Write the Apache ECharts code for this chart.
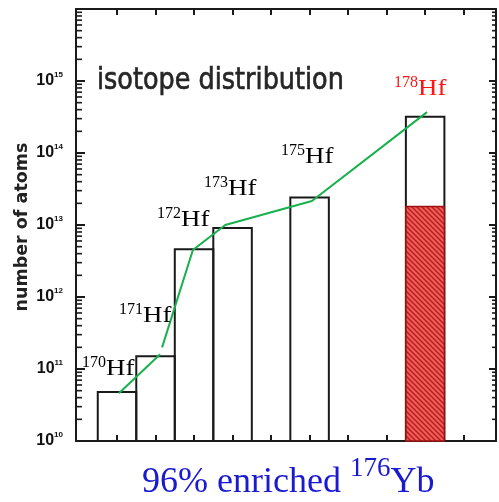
<!DOCTYPE html>
<html><head><meta charset="utf-8">
<script src="https://cdn.jsdelivr.net/npm/echarts@6/dist/echarts.min.js"></script>
<style>html,body{margin:0;padding:0;background:#fff}#c{width:499px;height:502px}</style>
</head><body><div id="c"></div>
<script>
// ---------- data ----------
const masses = [170, 171, 172, 173, 175, 178];
const atoms = [4.8e10, 1.5e11, 4.6e12, 9.1e12, 2.4e13, 3.2e14];
const enrichedMass = [178];
const enrichedAtoms = [1.8e13];
const lineMassA = [170.05, 171.12];
const lineAtomsA = [4.6e10, 1.6e11];
const lineMassB = [171.17, 171.97, 172.81, 175.06, 178.05];
const lineAtomsB = [2.0e11, 4.5e12, 1.0e13, 2.15e13, 3.7e14];
const massTicks = [170, 171, 172, 173, 174, 175, 176, 177, 178, 179];
const minorMultipliers = [2, 3, 4, 5, 6, 7, 8, 9];
const decadeExps = [10, 11, 12, 13, 14, 15];
const isotopeSup = ['170', '171', '172', '173', '175', '178'];
const elementName = 'Hf';
const titleText = 'isotope distribution';
const yTitle = 'number of atoms';
const footMain = '96% enriched ';
const footSup = '176';
const footEl = 'Yb';

// ---------- layout ----------
const X_MIN = 168.935, X_MAX = 179.84;
const Y_MIN = 1e10, Y_MAX = 1e16;
// left x of superscript, baseline y of element symbol
const labelPos = [[82, 377], [119, 324], [157, 228], [204, 197], [281, 165], [394, 97]];
const labelColor = ['#000', '#000', '#000', '#000', '#000', '#ff1414'];

const minorValues = [];
decadeExps.forEach(e => minorMultipliers.forEach(m => minorValues.push(m * Math.pow(10, e))));

function hatch() {
  const s = 5;
  const c = document.createElement('canvas'); c.width = s; c.height = s;
  const g = c.getContext('2d');
  g.fillStyle = '#f35d58'; g.fillRect(0, 0, s, s);
  g.strokeStyle = '#b01e1e'; g.lineWidth = 1.4;
  g.beginPath();
  for (let k = -1; k <= 1; k++) { g.moveTo(-1, -1 + s * k); g.lineTo(s + 1, s + 1 + s * k); }
  g.stroke();
  return c;
}
const hatchImg = hatch();

const chart = echarts.init(document.getElementById('c'), null, { renderer: 'canvas' });

const axisCommon = {
  type: 'value', min: X_MIN, max: X_MAX,
  axisLine: { show: true, lineStyle: { color: '#1a1a1a', width: 2 } },
  axisTick: { show: true, inside: true, length: 6, customValues: massTicks, lineStyle: { color: '#1a1a1a', width: 2 } },
  axisLabel: { show: false }, splitLine: { show: false }
};
const yCommon = {
  type: 'log', logBase: 10, min: Y_MIN, max: Y_MAX,
  axisLine: { show: true, lineStyle: { color: '#1a1a1a', width: 2 } },
  splitLine: { show: false }
};

function barItem(params, api, style) {
  const m = api.value(0), v = api.value(1);
  const p1 = api.coord([m - 0.5, v]);
  const p2 = api.coord([m + 0.5, Y_MIN]);
  return { type: 'rect', shape: { x: p1[0], y: p1[1], width: p2[0] - p1[0], height: p2[1] - p1[1] }, style: style };
}

const labelGraphics = isotopeSup.map((s, i) => ({
  type: 'group', x: labelPos[i][0], y: labelPos[i][1], z: 10,
  children: [
    { type: 'text', x: 0, y: -14.5, z: 10,
      style: { text: s, align: 'left', verticalAlign: 'middle', fill: labelColor[i], font: '16px "Liberation Serif"' } },
    { type: 'text', x: s.length * 8, y: -8.1, scaleX: 1.12, z: 10,
      style: { text: elementName, align: 'left', verticalAlign: 'middle', fill: labelColor[i], font: '24px "Liberation Serif"' } }
  ]
}));

chart.setOption({
  animation: false,
  backgroundColor: '#fff',
  grid: { left: 76, right: 3, top: 9, bottom: 61, containLabel: false },
  xAxis: [
    Object.assign({}, axisCommon, { position: 'bottom' }),
    Object.assign({}, axisCommon, { position: 'top' })
  ],
  yAxis: [
    Object.assign({}, yCommon, {
      position: 'left',
      axisTick: { show: true, inside: true, length: 9, lineStyle: { color: '#1a1a1a', width: 2 } },
      axisLabel: {
        show: true, margin: 13, color: '#111',
        formatter: function (v) {
          const e = Math.round(Math.log10(v));
          if (decadeExps.indexOf(e) < 0) return '';
          return '{b|10}{e|' + e + '}';
        },
        rich: {
          b: { fontFamily: 'Liberation Sans', fontWeight: 'bold', fontSize: 16, lineHeight: 21, verticalAlign: 'middle', color: '#111' },
          e: { fontFamily: 'Liberation Sans', fontWeight: 'bold', fontSize: 8, lineHeight: 8, verticalAlign: 'top', color: '#111' }
        }
      }
    }),
    Object.assign({}, yCommon, {
      position: 'right',
      axisTick: { show: true, inside: true, length: 7, lineStyle: { color: '#1a1a1a', width: 2 } },
      axisLabel: { show: false }
    })
  ],
  series: [
    {
      type: 'custom', name: 'minor', silent: true, z: 1,
      data: minorValues.map(v => [v]),
      encode: { y: 0 },
      renderItem: function (params, api) {
        const cs = params.coordSys;
        const y = api.coord([X_MIN, api.value(0)])[1];
        return {
          type: 'group', children: [
            { type: 'line', shape: { x1: cs.x, y1: y, x2: cs.x + 6, y2: y }, style: { stroke: '#1a1a1a', lineWidth: 1.6 } },
            { type: 'line', shape: { x1: cs.x + cs.width - 4, y1: y, x2: cs.x + cs.width, y2: y }, style: { stroke: '#1a1a1a', lineWidth: 1.6 } }
          ]
        };
      }
    },
    {
      type: 'custom', name: 'atoms', silent: true, z: 2,
      data: masses.map((m, i) => [m, atoms[i]]),
      encode: { x: 0, y: 1 },
      renderItem: (p, api) => barItem(p, api, { fill: 'rgba(0,0,0,0)', stroke: '#1a1a1a', lineWidth: 2 })
    },
    {
      type: 'custom', name: 'enriched', silent: true, z: 3,
      data: enrichedMass.map((m, i) => [m, enrichedAtoms[i]]),
      encode: { x: 0, y: 1 },
      renderItem: (p, api) => barItem(p, api, { fill: { image: hatchImg, repeat: 'repeat' }, stroke: '#9e1010', lineWidth: 1.5 })
    },
    {
      type: 'line', silent: true, z: 5, symbol: 'none', showSymbol: false,
      data: lineMassA.map((m, i) => [m, lineAtomsA[i]]),
      lineStyle: { color: '#17b04c', width: 2 }
    },
    {
      type: 'line', silent: true, z: 5, symbol: 'none', showSymbol: false,
      data: lineMassB.map((m, i) => [m, lineAtomsB[i]]),
      lineStyle: { color: '#17b04c', width: 2 }
    }
  ],
  graphic: [
    {
      type: 'text', x: 97, y: 81.6, scaleX: 0.85, z: 10,
      style: { text: titleText, x: 0, y: 0, align: 'left', verticalAlign: 'middle', fill: '#262626',
        stroke: '#262626', lineWidth: 0.7, font: '30px "DejaVu Sans"' }
    },
    {
      type: 'text', x: 22, y: 227, rotation: Math.PI / 2, z: 10,
      style: { text: yTitle, x: 0, y: 0, align: 'center', verticalAlign: 'middle', fill: '#222',
        font: 'bold 17.5px "DejaVu Sans"' }
    },
    {
      type: 'text', x: 142, y: 455, z: 10,
      style: {
        text: '{m|' + footMain + '}{s|' + footSup + '}{m|' + footEl + '}', x: 0, y: 0, align: 'left', verticalAlign: 'top',
        fill: '#1a1ad0',
        rich: {
          m: { fontFamily: 'Liberation Serif', fontSize: 36, lineHeight: 46, verticalAlign: 'bottom', fill: '#1a1ad0' },
          s: { fontFamily: 'Liberation Serif', fontSize: 27, lineHeight: 27, verticalAlign: 'top', fill: '#1a1ad0' }
        }
      }
    }
  ].concat(labelGraphics)
});
</script>
</body></html>
